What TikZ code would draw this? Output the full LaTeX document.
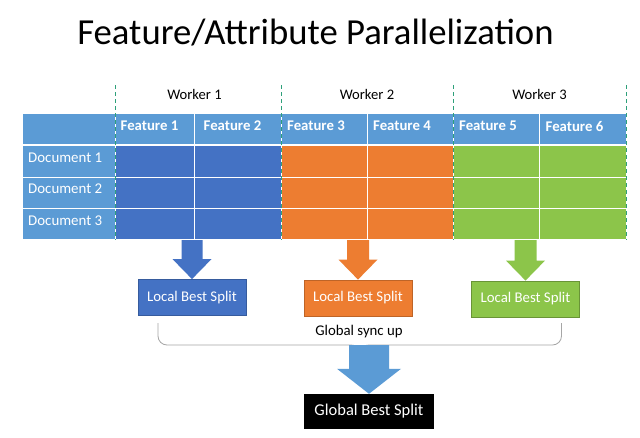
\documentclass[tikz,border=0pt]{standalone}
\usepackage{fontspec}
\setmainfont{Carlito}
\usetikzlibrary{calc}
\definecolor{hdrblue}{HTML}{5B9BD5}
\definecolor{cblue}{HTML}{4472C4}
\definecolor{corange}{HTML}{ED7D31}
\definecolor{cgreen}{HTML}{8CC54A}
\definecolor{dashgreen}{HTML}{2EA07A}
\definecolor{bracegray}{HTML}{A6A6A6}
\newcommand{\blockarrow}[6]{%
  \fill[#6] let \p1=(#1), \p2=(#2) in
    (\x2-#3pt,\y1) -- (\x2+#3pt,\y1) -- (\x2+#3pt,\y2+#5pt) -- (\x2+#4pt,\y2+#5pt)
    -- (\x2,\y2) -- (\x2-#4pt,\y2+#5pt) -- (\x2-#3pt,\y2+#5pt) -- cycle;}
\begin{document}
\begin{tikzpicture}[x=1pt,y=-1pt,
  cell/.style={rectangle,draw=white,line width=1pt,inner sep=0pt,anchor=north west},
  hdrtxt/.style={anchor=west,inner sep=0pt,text=white,font=\fontsize{14.8}{16}\selectfont\bfseries},
  doctxt/.style={anchor=west,inner sep=0pt,text=white,font=\fontsize{14.9}{16}\selectfont},
  worker/.style={inner sep=0pt,font=\fontsize{14.6}{16}\selectfont},
  lbs/.style={rectangle,inner sep=0pt,minimum width=108pt,minimum height=36pt,text=white,font=\fontsize{14.8}{16}\selectfont,line width=0.8pt},
  wline/.style={dashgreen,dashed,line width=0.9pt,dash pattern=on 4pt off 3pt}]
\useasboundingbox (0,0) rectangle (640,437);
\fill[white] (0,0) rectangle (640,437);
% title
\node[inner sep=0pt,font=\fontsize{36.7}{40}\selectfont] (title) at (315.5,33) {Feature/Attribute Parallelization};
% table
\foreach \i/\xa/\xb/\col in {0/22/115/hdrblue,1/115/194/cblue,2/194/281/cblue,3/281/367/corange,4/367/453/corange,5/453/539/cgreen,6/539/626/cgreen}{
  \pgfmathsetmacro{\w}{\xb-\xa}
  \node[cell,fill=hdrblue,minimum width=\w pt,minimum height=31pt] (h\i) at (\xa,113) {};
  \node[cell,fill=\col,minimum width=\w pt,minimum height=31.5pt] (ra\i) at (\xa,145) {};
  \node[cell,fill=\col,minimum width=\w pt,minimum height=31.5pt] (rb\i) at (\xa,176.5) {};
  \node[cell,fill=\col,minimum width=\w pt,minimum height=31pt] (rc\i) at (\xa,208) {};
}
% header texts
\node[hdrtxt] (f1) at (120.5,126) {Feature 1};
\node[hdrtxt] (f2) at (203.5,126) {Feature 2};
\node[hdrtxt] (f3) at (287,126) {Feature 3};
\node[hdrtxt] (f4) at (373,126) {Feature 4};
\node[hdrtxt] (f5) at (459,126) {Feature 5};
\node[hdrtxt] (f6) at (545.5,126) {Feature 6};
\node[doctxt] (d1) at (28,157.5) {Document 1};
\node[doctxt] (d2) at (28,189) {Document 2};
\node[doctxt] (d3) at (28,221) {Document 3};
% worker labels
\node[worker] (w1) at (194.5,94) {Worker 1};
\node[worker] (w2) at (367,94) {Worker 2};
\node[worker] (w3) at (539.5,94) {Worker 3};
% dashed worker separators
\coordinate (s0t) at (115,85); \coordinate (s0b) at (115,239.5);
\coordinate (s1t) at (281,85); \coordinate (s1b) at (281,239.5);
\coordinate (s2t) at (453,85); \coordinate (s2b) at (453,239.5);
\coordinate (s3t) at (626,85); \coordinate (s3b) at (626,239.5);
\foreach \k in {0,1,2,3}{\draw[wline] (s\k t) -- (s\k b);}
% local best split boxes
\node[lbs,fill=cblue,draw=cblue!80!black] (lbs1) at (192,297.5) {Local Best Split};
\node[lbs,fill=corange,draw=corange!80!black] (lbs2) at (358,298) {Local Best Split};
\node[lbs,fill=cgreen,draw=cgreen!75!black] (lbs3) at (525.5,299) {Local Best Split};
% arrows to local boxes
\blockarrow{rc1.south}{lbs1.north}{10.5}{19.5}{20}{cblue}
\blockarrow{rc3.south}{lbs2.north}{11}{19.5}{20}{corange}
\blockarrow{rc5.south}{lbs3.north}{11}{19.5}{20}{cgreen}
% brace
\coordinate (bl) at (158,323);
\coordinate (br) at (561.5,323);
\coordinate (bc) at (360,352);
\draw[bracegray,line width=0.8pt] (bl) -- (158,336) to[out=-90,in=180] (167,345) -- (351,345) to[out=0,in=90] (bc)
  to[out=90,in=180] (369,345) -- (552.5,345) to[out=0,in=-90] (561.5,336) -- (br);
\node[inner sep=0pt,font=\fontsize{14.8}{16}\selectfont] (sync) at (359,332) {Global sync up};
% global best split
\node[rectangle,fill=black,inner sep=0pt,minimum width=130pt,minimum height=35pt,text=white,font=\fontsize{16.5}{18}\selectfont] (gbs) at (369,411.5) {Global Best Split};
\coordinate (bigtop) at (365,345);
\blockarrow{bigtop}{gbs.north}{20}{32}{25}{hdrblue}
\end{tikzpicture}
\end{document}
